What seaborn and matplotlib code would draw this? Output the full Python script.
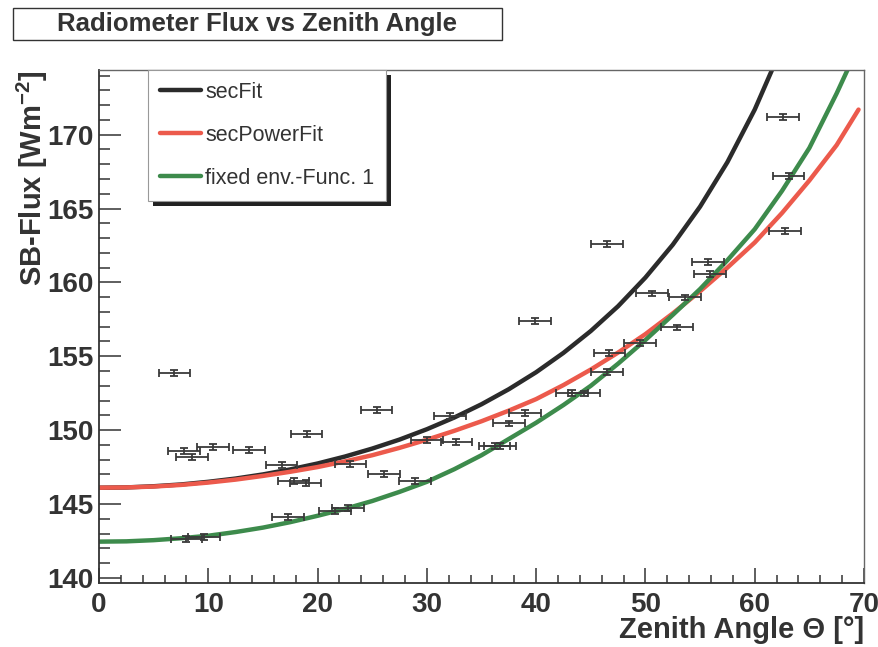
import numpy as np
import pandas as pd
import matplotlib
matplotlib.use("Agg")
import matplotlib.pyplot as plt
import seaborn as sns
from matplotlib.patches import Rectangle
from matplotlib.transforms import IdentityTransform
from matplotlib.ticker import MultipleLocator

# ---------------- data ----------------
zenith = [6.9, 7.8, 8.5, 10.4, 13.7, 16.7, 19.0, 17.8, 18.9, 17.3, 8.0, 9.6,
          21.6, 22.8, 23.0, 25.4, 26.1, 28.9, 30.0, 32.1, 32.7, 36.2, 36.7,
          37.5, 39.0, 39.9, 43.3, 44.4, 46.5, 46.7, 46.5, 49.5, 50.6, 53.6,
          52.9, 55.7, 55.9, 62.6, 63.1, 62.8]
flux = [153.85, 148.60, 148.20, 148.87, 148.65, 147.64, 149.75, 146.53, 146.44,
        144.14, 142.60, 142.79, 144.55, 144.71, 147.70, 151.35, 147.02, 146.57,
        149.32, 150.95, 149.20, 148.92, 148.92, 150.45, 151.17, 157.40, 152.52,
        152.48, 153.92, 155.25, 162.57, 155.88, 159.25, 158.98, 156.95, 161.37,
        160.55, 171.18, 167.18, 163.47]
zenith_err = 1.45
flux_err = 0.2

fit_x = [0, 2.5, 5, 7.5, 10, 12.5, 15, 17.5, 20, 22.5, 25, 27.5, 30, 32.5, 35,
         37.5, 40, 42.5, 45, 47.5, 50, 52.5, 55, 57.5, 60, 62.5]
sec_fit = [146.10, 146.12, 146.20, 146.32, 146.50, 146.72, 147.00, 147.34,
           147.74, 148.21, 148.75, 149.36, 150.06, 150.85, 151.75, 152.77,
           153.92, 155.23, 156.71, 158.39, 160.33, 162.55, 165.13, 168.14,
           171.70, 175.94]

pow_x = [0, 2.5, 5, 7.5, 10, 12.5, 15, 17.5, 20, 22.5, 25, 27.5, 30, 32.5, 35,
         37.5, 40, 42.5, 45, 47.5, 50, 52.5, 55, 57.5, 60, 62.5, 65, 67.5, 69.5]
sec_power_fit = [146.10, 146.12, 146.18, 146.29, 146.45, 146.65, 146.90, 147.18,
                 147.50, 147.88, 148.30, 148.80, 149.35, 149.95, 150.60, 151.32,
                 152.10, 153.05, 154.10, 155.25, 156.50, 157.90, 159.40, 161.00,
                 162.70, 164.70, 166.90, 169.30, 171.70]

env_x = [0, 2.5, 5, 7.5, 10, 12.5, 15, 17.5, 20, 22.5, 25, 27.5, 30, 32.5, 35,
         37.5, 40, 42.5, 45, 47.5, 50, 52.5, 55, 57.5, 60, 62.5, 65, 67.5, 68.5]
env_func = [142.45, 142.47, 142.55, 142.68, 142.85, 143.10, 143.40, 143.77,
            144.20, 144.67, 145.20, 145.82, 146.50, 147.35, 148.30, 149.40,
            150.50, 151.70, 153.00, 154.50, 156.10, 157.80, 159.55, 161.50,
            163.60, 166.20, 169.10, 172.80, 174.40]

labels = ["secFit", "secPowerFit", "fixed env.-Func. 1"]
colors = ["#2b2b2b", "#ec5a4c", "#3d8b4c"]

curves = pd.concat([
    pd.DataFrame({"theta": fit_x, "flux": sec_fit, "fit": labels[0]}),
    pd.DataFrame({"theta": pow_x, "flux": sec_power_fit, "fit": labels[1]}),
    pd.DataFrame({"theta": env_x, "flux": env_func, "fit": labels[2]}),
], ignore_index=True)

# ---------------- style ----------------
sns.set_theme(style="white")
plt.rcParams["font.family"] = ["Liberation Sans", "DejaVu Sans"]
plt.rcParams["font.weight"] = "bold"
plt.rcParams["mathtext.fontset"] = "custom"
plt.rcParams["mathtext.rm"] = "Liberation Sans:bold"
plt.rcParams["mathtext.it"] = "Liberation Sans:bold"
plt.rcParams["mathtext.bf"] = "Liberation Sans:bold"

W, H = 879, 647
fig = plt.figure(figsize=(W / 100, H / 100), dpi=100)
fig.patch.set_facecolor("white")
L, R, T, B = 99, 864, 70, 583
ax = fig.add_axes([L / W, 1 - B / H, (R - L) / W, (B - T) / H])
ax.set_facecolor("white")

sns.lineplot(data=curves, x="theta", y="flux", hue="fit", hue_order=labels,
             palette=colors, linewidth=3.2, ax=ax, sort=False, estimator=None)

ax.errorbar(zenith, flux, xerr=zenith_err, yerr=flux_err, fmt="none",
            ecolor="#3a3a3a", elinewidth=1.3, capsize=2.6, capthick=1.3, zorder=6)

ax.set_xlim(0, 70)
ax.set_ylim(139.65, 174.38)
ax.xaxis.set_major_locator(MultipleLocator(10))
ax.xaxis.set_minor_locator(MultipleLocator(2))
ax.yaxis.set_major_locator(MultipleLocator(5))
ax.yaxis.set_minor_locator(MultipleLocator(1))

ax.tick_params(axis="both", which="both", direction="in", colors="#333333",
               labelcolor="#333333", width=1.1, bottom=True, left=True,
               top=False, right=False)
ax.tick_params(axis="y", which="major", length=16, pad=4, labelsize=20)
ax.tick_params(axis="y", which="minor", length=8)
ax.tick_params(axis="x", which="major", length=11, pad=6.5, labelsize=20)
ax.tick_params(axis="x", which="minor", length=5.5)
for lbl in ax.get_xticklabels() + ax.get_yticklabels():
    lbl.set_fontweight("bold")

for side in ["left", "bottom"]:
    ax.spines[side].set_color("#333333")
    ax.spines[side].set_linewidth(1.3)
for side in ["top", "right"]:
    ax.spines[side].set_color("#666666")
    ax.spines[side].set_linewidth(1.0)

ax.set_xlabel("Zenith Angle \u0398 [\u00b0]", fontsize=21, fontweight="bold",
              color="#333333", loc="right")
ax.xaxis.set_label_coords(1.0, -0.064)
ax.set_ylabel("SB-Flux [Wm$^{-2}$]", fontsize=21, fontweight="bold",
              color="#333333", loc="top")
ax.yaxis.set_label_coords(-0.064, 1.0)

# legend
leg = ax.legend(labels=labels, handles=ax.get_lines()[:3], loc="upper left",
                bbox_to_anchor=(148 / W, 1 - 70 / H), bbox_transform=fig.transFigure,
                borderaxespad=0, frameon=True, fancybox=False, edgecolor="#999999",
                facecolor="white", framealpha=1.0,
                fontsize=15.5, handlelength=1.9, handletextpad=0.2, labelspacing=1.02,
                borderpad=0.55)
leg.get_frame().set_linewidth(0.8)
for t in leg.get_texts():
    t.set_fontweight("normal")
    t.set_color("#333333")
leg.set_zorder(10)

# title box
fig.patches.append(Rectangle((13 / W, 1 - 40 / H), (502 - 13) / W, 32 / H,
                             transform=fig.transFigure, facecolor="white",
                             edgecolor="#333333", linewidth=1.0))
fig.text(257 / W, 1 - 24 / H, "Radiometer Flux vs Zenith Angle", ha="center",
         va="center", fontsize=18.5, fontweight="bold", color="#333333")

fig.canvas.draw()
bb = leg.get_frame().get_window_extent()
shadow = Rectangle((bb.x0 + 5, bb.y0 - 5), bb.width, bb.height,
                   transform=IdentityTransform(), facecolor="#222222",
                   edgecolor="none", zorder=9.5, clip_on=False)
ax.add_artist(shadow)

fig.savefig("out.png", dpi=100, facecolor="white")
